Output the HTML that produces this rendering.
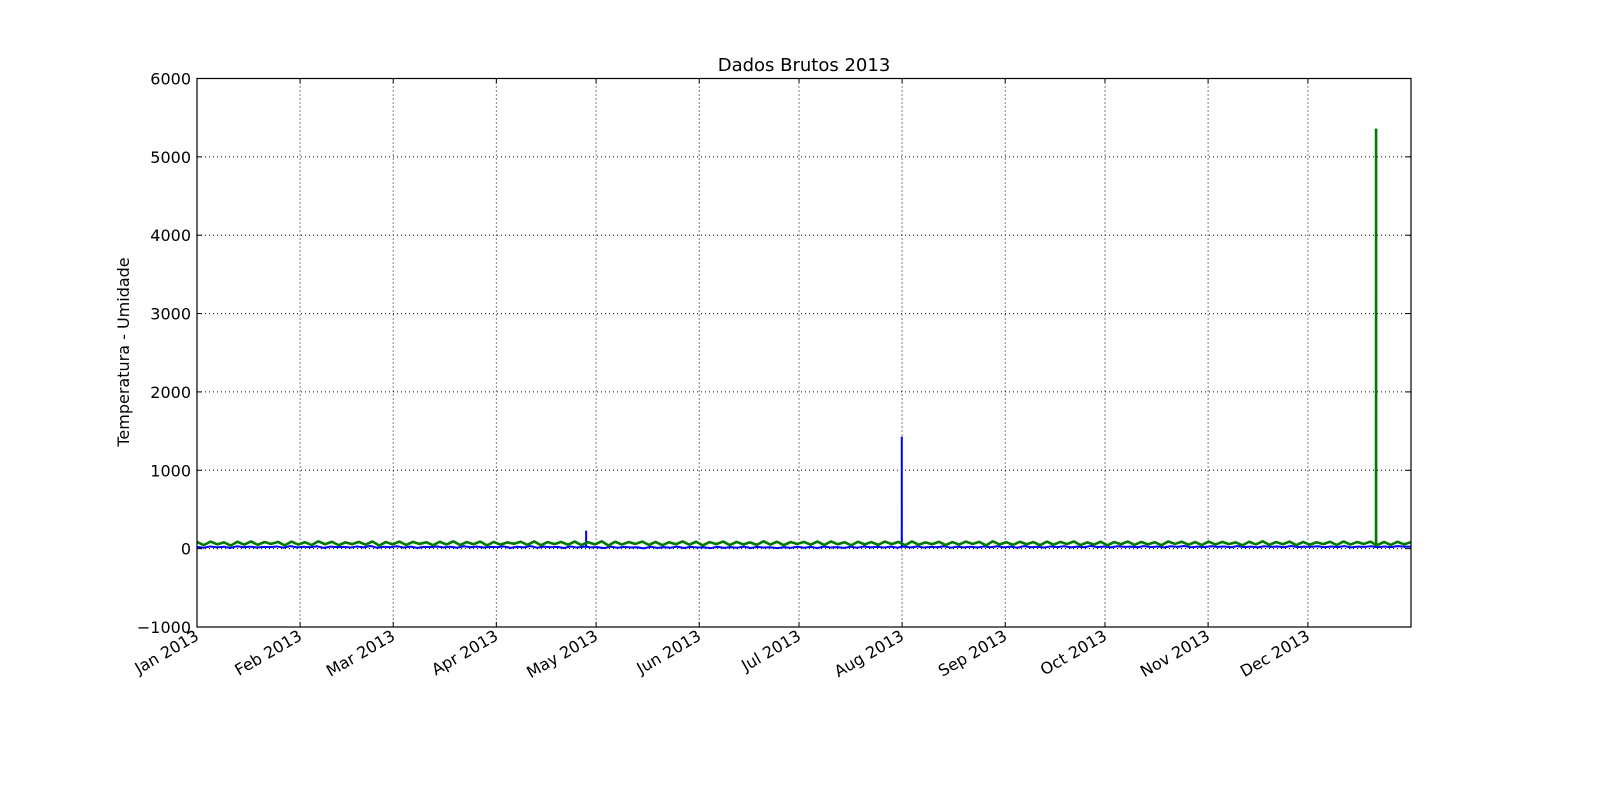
<!DOCTYPE html>
<html><head><meta charset="utf-8"><style>
html,body{margin:0;padding:0;background:#fff}
svg{display:block}
text{font-family:"DejaVu Sans","Liberation Sans",sans-serif;fill:#000}
</style></head><body>
<svg id="chart" width="1600" height="800">
<rect x="0" y="0" width="1600" height="800" fill="#fff"/>
<g id="grid"></g>
<g id="plot"></g>
<rect x="197" y="78.5" width="1214" height="548.5" fill="none" stroke="#000" stroke-width="1.2"/>
<g id="ticks"></g>
<text x="804" y="71" font-size="18" text-anchor="middle">Dados Brutos 2013</text>
<text transform="translate(129,352) rotate(-90)" font-size="16" text-anchor="middle">Temperatura - Umidade</text>
</svg>
<script>
const monthLabels=["Jan 2013","Feb 2013","Mar 2013","Apr 2013","May 2013","Jun 2013","Jul 2013","Aug 2013","Sep 2013","Oct 2013","Nov 2013","Dec 2013"];
const monthStartDays=[0,31,59,90,120,151,181,212,243,273,304,334];
const yTicks=[-1000,0,1000,2000,3000,4000,5000,6000];
const humidity=[85,45,90,55,80,40,88,50,92,48,84,60,86,42,90,52,82,46,94,56,88,44,80,58,86,50,92,40,84,54,90,48,86,60,82,44,88,52,94,46,84,56,90,42,86,50,80,62,88,48,92,44,84,58,86,50,90,46,82,54,94,40,88,52,84,60,90,48,86,44,82,56,92,50,88,42,84,58,90,46,86,54,80,48,94,52,88,44,84,60,86,50,90,46,92,56,82,42,88,54,84,48,90,58,86,44,92,50,80,56,88,46,84,52,90,60,86,42,94,54,82,48,88,56,84,44,90,50,86,58,92,46,80,52,88,42,84,56,90,48,86,54,82,44,92,60,88,50,84,46,90,52,86,58,80,42,88,54,94,48,84,56,90,44,86,50,82,58,88,46,92,52,84,60,90,44,86,48,88,54,84];
const temperature=[22,12,28,16,24,10,30,18,26,14,22,20,28,12,32,16,24,18,30,10,26,20,22,14,28,16,34,12,24,18,30,14,26,10,22,20,28,16,24,12,30,18,26,14,22,20,28,10,24,16,32,12,26,18,22,8,28,14,24,16,20,6,26,12,22,14,18,4,24,10,20,12,26,8,22,14,18,6,24,10,20,12,26,8,22,14,18,6,20,10,24,12,22,8,26,14,20,10,24,12,28,16,22,14,26,12,24,16,28,14,22,18,30,12,26,16,24,14,28,18,30,16,26,12,32,18,24,14,28,20,30,16,26,18,34,20,28,16,30,22,26,18,32,20,28,16,30,22,34,18,26,20,30,22,28,18,32,20,26,16,30,22,28,18,34,20,26,22,30,18,28,20,32,16,26,22,30,18,28,20,32,24,26];
const tempSpikeDays=[117,211.9];
const tempSpikeVals=[230,1430];
const humSpikeDays=[354.5];
const humSpikeVals=[5360];
const x0=197,x1=1411,y0=627,y1=78.5;
const xs=d=>x0+d*(x1-x0)/365;
const ys=v=>y0-(v+1000)*(y0-y1)/7000;
const NS="http://www.w3.org/2000/svg";
function mk(tag,attrs,parent){const e=document.createElementNS(NS,tag);for(const k in attrs)e.setAttribute(k,attrs[k]);parent.appendChild(e);return e;}
const grid=document.getElementById('grid'),plot=document.getElementById('plot'),ticks=document.getElementById('ticks');
monthStartDays.forEach((d,i)=>{
  const x=xs(d);
  if(i>0){const g=mk('line',{x1:x,x2:x,y1:y1,y2:y0,stroke:'#000','stroke-width':1,'stroke-dasharray':'1,3'},grid);
  
  }
  const t=mk('line',{x1:x,x2:x,y1:y0,y2:y0-5,stroke:'#000'},ticks);
  
  
  const t2=mk('line',{x1:x,x2:x,y1:y1,y2:y1+5,stroke:'#000'},ticks);
  
  
  const l=mk('text',{transform:`translate(${x+3},${y0+12}) rotate(-30)`,'font-size':16,'text-anchor':'end'},ticks);
  l.textContent=monthLabels[i];
  
  
});
yTicks.forEach(v=>{
  const y=ys(v);
  if(v!==-1000&&v!==6000){const g=mk('line',{x1:x0,x2:x1,y1:y,y2:y,stroke:'#000','stroke-width':1,'stroke-dasharray':'1,3'},grid);
  
  }
  const t=mk('line',{x1:x0,x2:x0+5,y1:y,y2:y,stroke:'#000'},ticks);
  
  
  const t2=mk('line',{x1:x1,x2:x1-5,y1:y,y2:y,stroke:'#000'},ticks);
  
  
  const l=mk('text',{x:x0-6,y:y+6,'font-size':16,'text-anchor':'end'},ticks);
  l.textContent=(v<0?'\u2212':'')+Math.abs(v);
  
  
});
function series(vals,spD,spV,color,name,w){
  const n=vals.length;const pts=[];
  vals.forEach((v,i)=>pts.push([i*365/(n-1),v]));
  spD.forEach((d,i)=>{pts.push([d-0.01,vals[Math.round(d*(n-1)/365)]]);pts.push([d,spV[i]]);pts.push([d+0.01,vals[Math.round(d*(n-1)/365)]]);});
  pts.sort((a,b)=>a[0]-b[0]);
  const p=mk('polyline',{points:pts.map(q=>xs(q[0]).toFixed(2)+','+ys(q[1]).toFixed(2)).join(' '),fill:'none',stroke:color,'stroke-width':w,'stroke-linejoin':'bevel'},plot);
  
  
}
series(temperature,tempSpikeDays,tempSpikeVals,'#0000ff','temperature-line',2);
series(humidity,humSpikeDays,humSpikeVals,'#007a00','humidity-line',2.6);
</script>
</body></html>
